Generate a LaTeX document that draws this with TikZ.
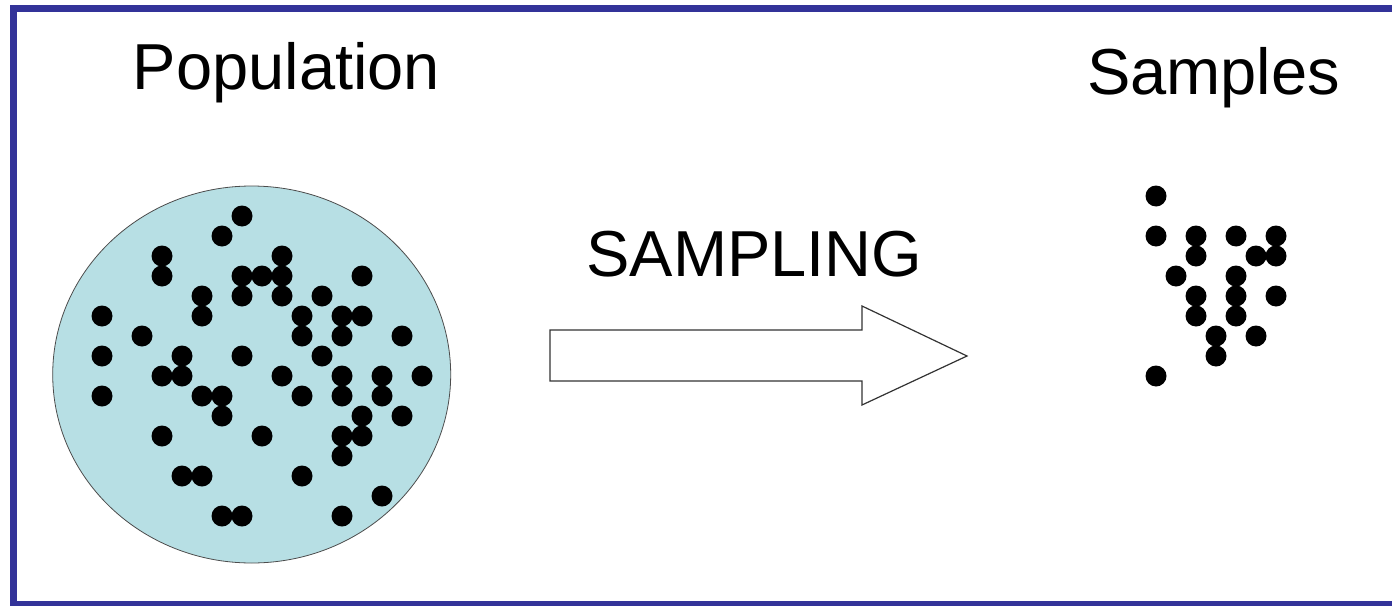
\documentclass[tikz,border=0pt]{standalone}
\usepackage{fontspec}
\setmainfont{Liberation Sans}
\usetikzlibrary{positioning}

\definecolor{framebl}{RGB}{51,51,153}
\definecolor{popfill}{RGB}{183,223,228}

\begin{document}
\begin{tikzpicture}[x=1pt,y=-1pt,
    title/.style={anchor=base,inner sep=0pt,font=\fontsize{65}{65}\selectfont},
    popdot/.style={fill=black},
    bigarrow/.style={draw=black!80,fill=white,line width=1.2pt,line join=miter}]

  \useasboundingbox (0,0) rectangle (1392,605);
  \draw[framebl,line width=7pt] (13,8) rectangle (1396,604);

  % labels
  \node[title] (poplabel) at (286.5,89) {Population};
  \node[title] (samplabel) at (1213.5,94) {Samples};
  \node[title] (samplinglabel) at (754.5,276) {SAMPLING};

  % population
  \filldraw[fill=popfill,draw=black!70,line width=0.8pt] (251.7,374.5) ellipse (199 and 188.5);
  \foreach \c/\r in {7/0,6/1,3/2,9/2,
      3/3,7/3,8/3,9/3,13/3, 5/4,7/4,9/4,11/4,
      0/5,5/5,10/5,12/5,13/5, 2/6,10/6,12/6,15/6,
      0/7,4/7,7/7,11/7, 3/8,4/8,9/8,12/8,14/8,16/8,
      0/9,5/9,6/9,10/9,12/9,14/9, 6/10,13/10,15/10,
      3/11,8/11,12/11,13/11, 12/12, 4/13,5/13,10/13,
      14/14, 6/15,7/15,12/15}
    \fill[popdot] ({102+20*\c},{216+20*\r}) circle (10.5);

  % arrow
  \draw[bigarrow] (550,330) -- (862,330) -- (862,306) -- (967,356)
    -- (862,405) -- (862,381) -- (550,381) -- cycle;

  % samples
  \foreach \c/\r in {0/0, 0/2,2/2,4/2,6/2, 2/3,5/3,6/3,
      1/4,4/4, 2/5,4/5,6/5, 2/6,4/6, 3/7,5/7, 3/8, 0/9}
    \fill[popdot] ({1156+20*\c},{196+20*\r}) circle (10.5);

\end{tikzpicture}
\end{document}
